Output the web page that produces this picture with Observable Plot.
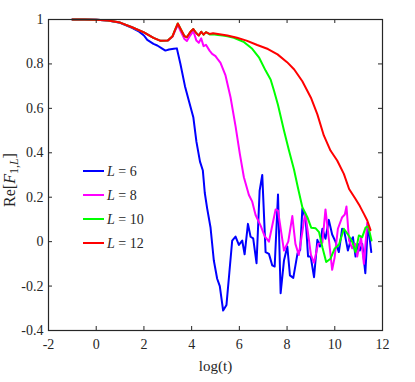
<!DOCTYPE html>
<html><head><meta charset="utf-8">
<script src="https://cdn.jsdelivr.net/npm/d3@7"></script>
<script src="https://cdn.jsdelivr.net/npm/@observablehq/plot@0.6"></script>
<style>body{margin:0;background:#fff}</style>
</head><body><div id="chart"></div>
<script>
const xTicks = [-2, 0, 2, 4, 6, 8, 10, 12];
const yTicks = [-0.4, -0.2, 0, 0.2, 0.4, 0.6, 0.8, 1];
const seriesL = ["6", "8", "10", "12"];
const colors = ["#0000ff", "#ff00ff", "#00ff00", "#ff0000"];
const xLabel = "log(t)";

const L6 = [[-1,1],[-0.5,1],[0,0.999],[0.5,0.995],[1,0.985],[1.5,0.962],[1.8,0.945],[2.0,0.928],[2.14,0.908],[2.4,0.89],
[2.56,0.883],[2.75,0.87],[2.9,0.86],[3.05,0.865],[3.25,0.868],[3.38,0.87],[3.53,0.80],[3.72,0.70],[3.88,0.635],[4.07,0.56],
[4.2,0.45],[4.35,0.36],[4.47,0.32],[4.55,0.22],[4.65,0.15],[4.79,0.065],[4.93,-0.085],[5.07,-0.167],[5.18,-0.2],[5.32,-0.31],
[5.46,-0.285],[5.58,-0.14],[5.70,0.005],[5.84,0.023],[5.98,-0.015],[6.12,0.005],[6.22,-0.057],[6.36,0.08],[6.47,0.022],[6.58,0.015],
[6.72,-0.097],[6.85,0.23],[6.96,0.30],[7.10,-0.047],[7.24,-0.055],[7.38,-0.107],[7.48,-0.112],[7.62,0.212],[7.73,-0.232],[7.87,-0.085],
[8.01,-0.022],[8.12,-0.152],[8.26,-0.163],[8.44,-0.052],[8.55,-0.037],[8.64,0.148],[8.78,0.103],[8.88,-0.067],[8.99,-0.067],[9.13,-0.16],
[9.27,0.008],[9.38,-0.022],[9.48,0.058],[9.61,0.013],[9.75,0.098],[9.89,0.032],[10.03,0.0],[10.17,-0.047],[10.31,0.058],[10.4,0.045],
[10.55,-0.04],[10.65,0.0],[10.76,0.02],[10.87,-0.067],[10.97,-0.01],[11.05,-0.04],[11.15,-0.01],[11.28,-0.142],[11.39,0.08],[11.53,-0.047]];

const L8 = [[-1,1],[-0.5,1],[0,0.999],[0.5,0.995],[1,0.986],[1.5,0.965],[2,0.942],[2.4,0.917],[2.7,0.904],[3.0,0.905],
[3.2,0.922],[3.3,0.948],[3.42,0.975],[3.55,0.945],[3.7,0.912],[3.8,0.903],[3.95,0.93],[4.07,0.948],[4.2,0.905],[4.3,0.895],
[4.4,0.915],[4.5,0.88],[4.6,0.886],[4.75,0.86],[4.86,0.845],[5.0,0.835],[5.1,0.82],[5.21,0.805],[5.42,0.748],[5.63,0.65],
[5.84,0.52],[6.02,0.395],[6.19,0.29],[6.4,0.21],[6.54,0.18],[6.68,0.12],[6.9,0.07],[7.06,0.025],[7.24,0.0],[7.38,0.073],
[7.52,0.145],[7.62,0.14],[7.87,-0.04],[8.05,0.0],[8.22,0.115],[8.35,-0.01],[8.49,-0.06],[8.64,0.043],[8.76,0.13],[8.9,0.02],
[9.0,-0.06],[9.13,-0.095],[9.3,-0.01],[9.48,-0.005],[9.61,0.145],[9.75,0.013],[9.89,-0.127],[9.99,-0.073],[10.13,0.058],[10.31,0.11],
[10.42,0.122],[10.49,0.158],[10.6,0.005],[10.73,-0.03],[10.85,-0.01],[10.94,-0.067],[11.1,0.02],[11.22,-0.1],[11.36,0.085],[11.45,0.05]];

const L10 = [[-1,1],[-0.5,1],[0,0.999],[0.5,0.995],[1,0.986],[1.5,0.965],[2,0.942],[2.4,0.917],[2.7,0.904],[3.0,0.905],
[3.2,0.925],[3.3,0.952],[3.42,0.982],[3.55,0.955],[3.7,0.925],[3.8,0.92],[3.95,0.945],[4.07,0.957],[4.2,0.938],[4.3,0.928],
[4.4,0.945],[4.5,0.932],[4.6,0.943],[4.75,0.933],[4.9,0.933],[5.1,0.93],[5.3,0.928],[5.5,0.925],[5.77,0.918],[6.2,0.898],
[6.54,0.868],[6.82,0.83],[7.1,0.77],[7.31,0.73],[7.45,0.68],[7.62,0.615],[7.87,0.50],[8.08,0.41],[8.29,0.325],[8.46,0.24],
[8.64,0.155],[8.85,0.11],[9.01,0.063],[9.2,0.06],[9.34,0.043],[9.48,-0.025],[9.64,-0.092],[9.82,-0.077],[9.99,-0.032],[10.17,-0.015],
[10.38,0.058],[10.55,0.033],[10.73,0.0],[10.87,-0.047],[11.01,0.028],[11.15,0.02],[11.29,0.063],[11.4,0.07],[11.54,0.005]];

const L12 = [[-1,1],[-0.5,1],[0,0.999],[0.5,0.995],[1,0.986],[1.5,0.965],[2,0.942],[2.4,0.917],[2.7,0.904],[3.0,0.905],
[3.2,0.925],[3.3,0.952],[3.42,0.982],[3.55,0.955],[3.7,0.925],[3.8,0.92],[3.95,0.945],[4.07,0.957],[4.2,0.938],[4.3,0.928],
[4.4,0.945],[4.5,0.932],[4.6,0.943],[4.75,0.935],[4.9,0.938],[5.1,0.935],[5.5,0.928],[5.9,0.918],[6.3,0.905],[6.75,0.885],
[7.2,0.867],[7.6,0.843],[8.0,0.808],[8.3,0.775],[8.64,0.722],[9.0,0.648],[9.27,0.573],[9.54,0.478],[9.82,0.41],[10.1,0.365],
[10.38,0.305],[10.6,0.237],[10.87,0.192],[11.05,0.16],[11.22,0.125],[11.36,0.095],[11.5,0.052]];

const series = [L6, L8, L10, L12];
const data = series.flatMap((s, i) => s.map(([x, y]) => ({x, y, L: seriesL[i]})));

const ink = "#262626";
const serif = "Liberation Serif, DejaVu Serif, serif";
const fmt = d => String(d);

const W = 415, H = 382, mL = 48, mR = 33, mT = 19, mB = 52;
const innerW = W - mL - mR, innerH = H - mT - mB, tick = 4;

const plot = Plot.plot({
  width: W, height: H,
  marginLeft: mL, marginRight: mR, marginTop: mT, marginBottom: mB,
  style: {fontFamily: serif, fontSize: "14px", color: ink, background: "#fff", overflow: "visible"},
  x: {domain: [-2, 12]},
  y: {domain: [-0.4, 1]},
  color: {domain: seriesL, range: colors},
  marks: [
    Plot.line(data, {x: "x", y: "y", z: "L", stroke: "L", strokeWidth: 2}),
    // inward ticks on all four sides
    Plot.tickX(xTicks, {x: d => d, stroke: ink, insetTop: innerH - tick}),
    Plot.tickX(xTicks, {x: d => d, stroke: ink, insetBottom: innerH - tick}),
    Plot.tickY(yTicks, {y: d => d, stroke: ink, insetRight: innerW - tick}),
    Plot.tickY(yTicks, {y: d => d, stroke: ink, insetLeft: innerW - tick}),
    Plot.frame({stroke: ink, strokeWidth: 1.2}),
    Plot.axisX({ticks: xTicks, anchor: "bottom", tickSize: 0, tickPadding: 9, tickFormat: fmt, label: null, fontSize: 14}),
    Plot.axisY({ticks: yTicks, anchor: "left", tickSize: 0, tickPadding: 5, tickFormat: fmt, label: null, fontSize: 14}),
    Plot.text([xLabel], {frameAnchor: "bottom", dy: 36, text: d => d, fontSize: 15, textAnchor: "middle", lineAnchor: "middle"})
  ]
});
document.getElementById("chart").appendChild(plot);

const svg = d3.select(plot);
// y-axis label Re[F_{1,L}]
const yl = svg.append("text")
  .attr("transform", "translate(15,180) rotate(-90)")
  .attr("text-anchor", "middle")
  .attr("font-family", serif)
  .attr("font-size", 16)
  .attr("fill", ink);
yl.append("tspan").text("Re[");
yl.append("tspan").attr("font-style", "italic").text("F");
yl.append("tspan").attr("font-size", 12).attr("dy", 3).text("1,");
yl.append("tspan").attr("font-size", 12).attr("font-style", "italic").text("L");
yl.append("tspan").attr("dy", -3).text("]");

// legend
const lg = svg.append("g").attr("font-size", 14).attr("font-family", serif)
  .attr("fill", ink).attr("text-anchor", "start");
seriesL.forEach((v, i) => {
  const yy = 171 + i * 24;
  lg.append("line").attr("x1", 83).attr("x2", 104).attr("y1", yy).attr("y2", yy)
    .attr("stroke", colors[i]).attr("stroke-width", 2);
  const t = lg.append("text").attr("x", 107).attr("y", yy + 5).attr("text-anchor", "start");
  t.append("tspan").attr("font-style", "italic").text("L");
  t.append("tspan").text(" = " + v);
});
</script>
</body></html>
